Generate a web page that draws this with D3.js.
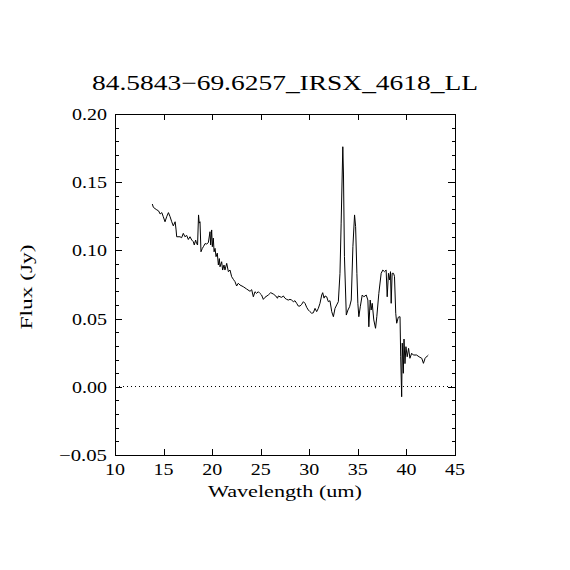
<!DOCTYPE html>
<html><head><meta charset="utf-8">
<script src="https://cdn.jsdelivr.net/npm/d3@7"></script>
<style>body{margin:0;background:#fff}svg{display:block}text{font-family:"Liberation Serif","DejaVu Serif",serif;fill:#000}</style>
</head><body>
<script>
const title = "84.5843\u221269.6257_IRSX_4618_LL";
const xLabel = "Wavelength (um)";
const yLabel = "Flux (Jy)";
const xTicks = [10,15,20,25,30,35,40,45];
const yTicks = [-0.05,0,0.05,0.10,0.15,0.20];
const wavelength = [13.84,13.95,14.24,14.48,14.65,14.82,14.97,15.15,15.32,15.50,15.67,15.84,16.0,16.19,16.29,16.35,16.69,16.86,17.03,17.2,17.38,17.55,17.72,17.9,18.06,18.16,18.3,18.4,18.5,18.6,18.67,18.75,18.85,18.99,19.1,19.27,19.44,19.61,19.78,19.85,19.95,20.02,20.12,20.2,20.3,20.4,20.53,20.64,20.74,20.81,20.98,21.08,21.22,21.32,21.5,21.67,21.84,22.01,22.18,22.35,22.52,22.69,22.87,23.2,23.55,23.9,24.07,24.24,24.41,24.58,24.75,24.92,25.09,25.27,25.44,25.78,26.03,26.3,26.55,26.72,26.82,26.99,27.16,27.33,27.5,27.67,27.84,28.01,28.18,28.36,28.53,28.7,28.87,29.05,29.22,29.39,29.56,29.73,29.9,30.07,30.25,30.42,30.59,30.76,30.93,31.1,31.28,31.38,31.52,31.62,31.79,31.96,32.13,32.31,32.48,32.65,32.82,32.99,33.16,33.28,33.45,33.52,33.62,33.81,33.98,34.15,34.32,34.49,34.66,34.77,34.9,35.0,35.1,35.25,35.45,35.62,35.86,36.03,36.13,36.27,36.37,36.48,36.64,36.82,36.95,37.16,37.4,37.57,37.74,37.91,38.02,38.15,38.26,38.36,38.43,38.53,38.67,38.77,38.9,39.0,39.16,39.34,39.41,39.51,39.57,39.68,39.75,39.85,39.95,40.08,40.22,40.36,40.54,40.71,41.05,41.3,41.58,41.75,41.92,42.15,42.25];
const flux = [0.134,0.1316,0.130,0.129,0.1267,0.1277,0.1247,0.121,0.1247,0.1277,0.1247,0.121,0.118,0.121,0.115,0.110,0.110,0.1093,0.1125,0.110,0.111,0.108,0.110,0.1076,0.1064,0.104,0.1076,0.105,0.104,0.126,0.120,0.121,0.099,0.1015,0.1027,0.105,0.1047,0.1057,0.1137,0.104,0.115,0.1027,0.109,0.099,0.1015,0.0954,0.098,0.0893,0.094,0.088,0.0917,0.0856,0.0893,0.0856,0.0905,0.0844,0.0856,0.0807,0.0788,0.0771,0.0739,0.0759,0.0746,0.0734,0.0717,0.0700,0.0712,0.066,0.0697,0.0685,0.0697,0.0685,0.0673,0.0641,0.0656,0.0673,0.069,0.068,0.0666,0.0649,0.0666,0.066,0.0656,0.0666,0.0649,0.0641,0.0636,0.0641,0.0636,0.0624,0.0631,0.0612,0.0592,0.0592,0.0605,0.0624,0.0612,0.0583,0.0563,0.0551,0.0539,0.0543,0.0575,0.0551,0.0575,0.0612,0.0673,0.069,0.065,0.0666,0.066,0.0624,0.0631,0.0551,0.0514,0.0575,0.060,0.0624,0.0832,0.120,0.176,0.156,0.0954,0.0526,0.0563,0.0587,0.0636,0.1027,0.126,0.1174,0.0832,0.0612,0.0514,0.0587,0.0673,0.066,0.0673,0.0636,0.044,0.0636,0.0563,0.0612,0.049,0.0429,0.0514,0.0685,0.0832,0.0856,0.0844,0.0856,0.066,0.0832,0.0783,0.0844,0.0612,0.0832,0.0832,0.0810,0.0539,0.0466,0.051,0.0514,0.022,-0.0073,0.032,0.0099,0.035,0.017,0.0294,0.022,0.0282,0.0209,0.0246,0.0233,0.0233,0.022,0.0209,0.0172,0.0209,0.0226,0.0233];

const W = 570, H = 570;
const m = {left:115, right:455, top:114, bottom:455};
const svg = d3.select("body").append("svg").attr("width",W).attr("height",H);
const x = d3.scaleLinear().domain([10,45]).range([m.left,m.right]);
const y = d3.scaleLinear().domain([-0.05,0.20]).range([m.bottom,m.top]);
const fmtY = v => (v < 0 ? "\u2212" : "") + Math.abs(v).toFixed(2);

// title
svg.append("text").attr("x",285).attr("y",90).attr("text-anchor","middle").attr("font-size",21)
  .attr("textLength",386).attr("lengthAdjust","spacingAndGlyphs").text(title);

const gAx = svg.append("g").attr("shape-rendering","crispEdges").attr("stroke","#000").attr("fill","none");
const xb = d3.axisBottom(x).tickValues(xTicks).tickSize(-6).tickFormat("");
const xt = d3.axisTop(x).tickValues(xTicks).tickSize(-6).tickFormat("");
gAx.append("g").attr("transform",`translate(0,${m.bottom})`).call(xb);
gAx.append("g").attr("transform",`translate(0,${m.top})`).call(xt);
const yMinor = d3.range(-5,21).map(i=>i/100).filter(v=>!yTicks.some(t=>Math.abs(t-v)<1e-9));
gAx.append("g").attr("transform",`translate(${m.left},0)`).call(d3.axisLeft(y).tickValues(yTicks).tickSize(-7).tickFormat(""));
gAx.append("g").attr("transform",`translate(${m.left},0)`).call(d3.axisLeft(y).tickValues(yMinor).tickSize(-3.5).tickFormat(""));
gAx.append("g").attr("transform",`translate(${m.right},0)`).call(d3.axisRight(y).tickValues(yTicks).tickSize(-7).tickFormat(""));
gAx.append("g").attr("transform",`translate(${m.right},0)`).call(d3.axisRight(y).tickValues(yMinor).tickSize(-3.5).tickFormat(""));
gAx.selectAll(".domain").attr("stroke","#000");
gAx.selectAll(".tick line").attr("stroke","#000");

svg.append("g").selectAll("text").data(xTicks).join("text")
  .attr("x",d=>x(d)).attr("y",475).attr("text-anchor","middle").attr("font-size",17)
  .attr("textLength",20).attr("lengthAdjust","spacingAndGlyphs").text(d=>d);
svg.append("g").selectAll("text").data(yTicks).join("text")
  .attr("x",107).attr("y",d=>y(d)+6).attr("text-anchor","end").attr("font-size",17)
  .attr("textLength",d=>d<0?48:35).attr("lengthAdjust","spacingAndGlyphs").text(fmtY);

svg.append("text").attr("x",285).attr("y",497).attr("text-anchor","middle").attr("font-size",17)
  .attr("textLength",154).attr("lengthAdjust","spacingAndGlyphs").text(xLabel);
svg.append("text").attr("transform","translate(32,287) rotate(-90)").attr("text-anchor","middle").attr("font-size",17)
  .attr("textLength",85).attr("lengthAdjust","spacingAndGlyphs").text(yLabel);

svg.append("line").attr("x1",x(10)).attr("x2",x(45)).attr("y1",y(0)).attr("y2",y(0))
  .attr("stroke","#000").attr("stroke-dasharray","1,3").attr("shape-rendering","crispEdges");

const pts = wavelength.map((w,i)=>[w,flux[i]]);
svg.append("path").datum(pts).attr("fill","none").attr("stroke","#000").attr("stroke-width",1)
  .attr("d",d3.line().x(d=>x(d[0])).y(d=>y(d[1])));
</script>
</body></html>
